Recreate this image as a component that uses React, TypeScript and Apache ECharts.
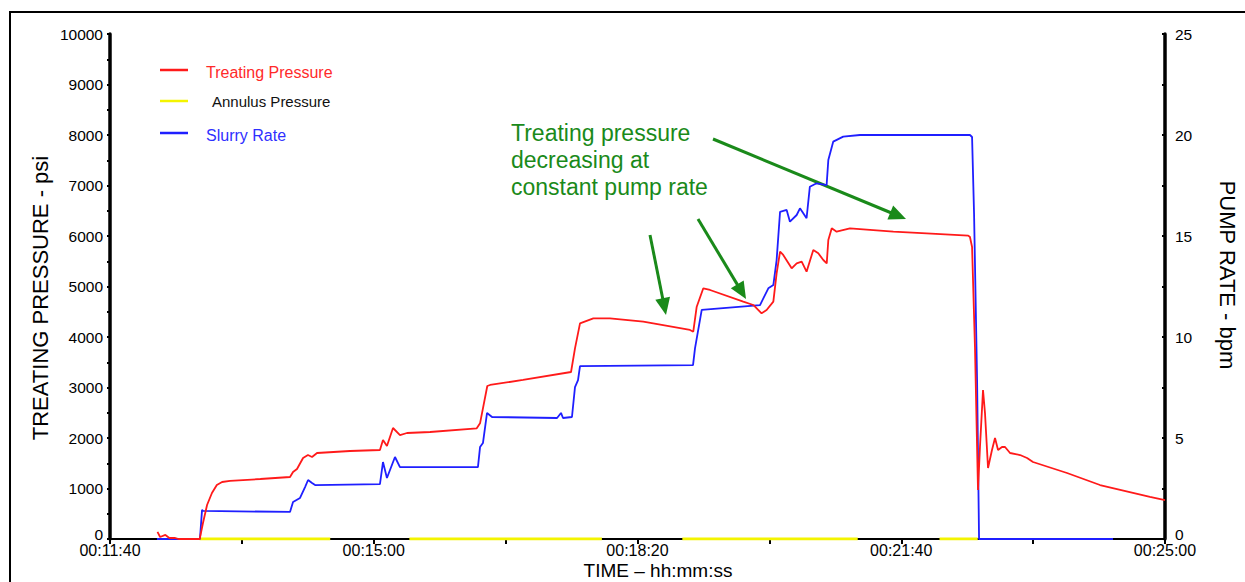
import React, { useEffect, useRef } from "react";
import * as echarts from "echarts";

// Time axis in seconds since 00:00:00
const timeMin = 700; // 00:11:40
const timeMax = 1500; // 00:25:00
const timeLabelStep = 200;

// Treating pressure, [seconds, psi]
const treatingPressure: [number, number][] = [
  [736, 140], [738, 40], [742, 80], [745, 20], [749, 20], [752, 0], [768, 0],
  [770.5, 317], [773.6, 673], [777.3, 911], [781, 1069], [785, 1129], [791, 1149],
  [814, 1188], [836.5, 1228], [838.8, 1327], [841.8, 1386], [846.4, 1604],
  [850.1, 1663], [853.2, 1624], [857, 1703], [882, 1743], [904.7, 1762],
  [907, 1960], [910, 1842], [914.6, 2198], [919.9, 2059], [925.2, 2099],
  [942.7, 2119], [978.1, 2192], [980.6, 2291], [986.1, 3030], [988.2, 3050],
  [1013.2, 3149], [1049.6, 3307], [1052.6, 3776], [1056.4, 4271], [1066.5, 4370],
  [1079.1, 4370], [1104.4, 4304], [1139.8, 4139], [1142.3, 4105], [1144.9, 4600],
  [1149.9, 4964], [1155, 4931], [1180.2, 4700], [1187.8, 4634], [1194.1, 4469],
  [1197.9, 4535], [1203, 4700], [1205.5, 5261], [1208.1, 5689], [1210.5, 5624],
  [1216.9, 5360], [1220.7, 5459], [1224.5, 5492], [1228.2, 5294], [1233.3, 5723],
  [1237.1, 5657], [1240.9, 5525], [1243.5, 5459], [1244.7, 5921], [1247.3, 6152],
  [1251, 6086], [1261.1, 6152], [1294, 6086], [1319.2, 6053], [1350.8, 6007],
  [1352.1, 5980], [1353.7, 5782], [1355.9, 3802], [1357.5, 1822], [1358.2, 970],
  [1359.7, 1822], [1362, 2950], [1363.5, 2495], [1365.8, 1406], [1368.8, 1762],
  [1371.1, 2000], [1373.4, 1762], [1376.4, 1822], [1378.7, 1822], [1382.5, 1703],
  [1390.1, 1663], [1395.4, 1604], [1399.9, 1525], [1425.7, 1307], [1450.7, 1069],
  [1488.6, 832], [1500, 772],
];

// Annulus pressure, [seconds, psi] (null = no reading)
const annulusPressure: [number, number | null][] = [
  [768, 0], [867, 0], [897, null], [927, 0], [1073, 0], [1100, null],
  [1134, 0], [1267, 0], [1300, null], [1329, 0], [1358, 0],
];

// Slurry rate, [seconds, bpm]
const slurryRate: [number, number][] = [
  [735.6, 0], [768.2, 0], [769.8, 1.44], [770.5, 1.39], [836.5, 1.34], [838.8, 1.83],
  [844.1, 2.03], [847.9, 2.57], [850.2, 2.92], [853.2, 2.77], [855.5, 2.67],
  [904.7, 2.72], [907, 3.81], [910, 3.02], [916.1, 4.06], [919.9, 3.56],
  [979, 3.56], [980.6, 4.55], [982.8, 4.75], [985.9, 6.24], [989.7, 6.04],
  [1039, 5.99], [1042, 6.24], [1043.5, 5.99], [1050.3, 6.04], [1052.6, 7.52],
  [1054.9, 7.87], [1056.4, 8.56], [1142.1, 8.61], [1143.6, 9.44], [1148.7, 11.34],
  [1162.6, 11.42], [1192.9, 11.58], [1199.2, 12.41], [1203, 12.57], [1205.5, 13.81],
  [1208.1, 16.2], [1213.1, 16.29], [1215.6, 15.71], [1220.7, 16.04], [1223.2, 16.37],
  [1228.2, 15.88], [1230.7, 17.44], [1235.8, 17.61], [1243.4, 17.52], [1244.7, 18.76],
  [1248.4, 19.67], [1256, 19.92], [1268.7, 20.0], [1352.1, 20.0], [1353.7, 19.9],
  [1355.2, 16.14], [1357.5, 7.87], [1359, 0], [1460.6, 0],
];

const seriesNames = ["Treating Pressure", "Annulus Pressure", "Slurry Rate"];
const seriesColors = ["#ff1a1a", "#f4f400", "#1f1fff"];
const legendTextColors = ["#ff2a2a", "#111111", "#2f2fff"];

const annotationText = "Treating pressure\ndecreasing at\nconstant pump rate";
const annotationColor = "#1a8a1a";

const FONT = "'Liberation Sans', Arial, Helvetica, sans-serif";

function pad(n: number) {
  return n < 10 ? "0" + n : String(n);
}
function hms(v: number) {
  const h = Math.floor(v / 3600);
  const m = Math.floor((v % 3600) / 60);
  const s = Math.round(v % 60);
  return `${pad(h)}:${pad(m)}:${pad(s)}`;
}

// Plain numbers; the zero label sits a little above the axis line
function yLabel(v: number) {
  return v === 0 ? "{zero|0}" : String(v);
}

// Straight arrow with a filled triangular head ending at (x2, y2)
function arrow(x1: number, y1: number, x2: number, y2: number) {
  const dx = x2 - x1;
  const dy = y2 - y1;
  const len = Math.hypot(dx, dy);
  const ux = dx / len;
  const uy = dy / len;
  const headLen = 17;
  const headHalf = 7.5;
  const bx = x2 - ux * headLen;
  const by = y2 - uy * headLen;
  return [
    {
      type: "line",
      shape: { x1, y1, x2: bx + ux * 2, y2: by + uy * 2 },
      style: { stroke: annotationColor, lineWidth: 3 },
      silent: true,
    },
    {
      type: "polygon",
      shape: {
        points: [
          [x2, y2],
          [bx - uy * headHalf, by + ux * headHalf],
          [bx + uy * headHalf, by - ux * headHalf],
        ],
      },
      style: { fill: annotationColor },
      silent: true,
    },
  ];
}

export default function App() {
  const ref = useRef<HTMLDivElement>(null);

  useEffect(() => {
    if (!ref.current) return;
    const chart = echarts.init(ref.current, undefined, { renderer: "svg" });

    const legendRows = [
      { lineY: 70, textX: 206, textY: 72 },
      { lineY: 101, textX: 212, textY: 101 },
      { lineY: 133, textX: 206, textY: 135 },
    ];

    const legendGraphics: any[] = [];
    seriesNames.forEach((name, i) => {
      const row = legendRows[i];
      legendGraphics.push({
        type: "line",
        shape: { x1: 160, y1: row.lineY, x2: 188, y2: row.lineY },
        style: { stroke: seriesColors[i], lineWidth: 2.5 },
        silent: true,
      });
      legendGraphics.push({
        type: "text",
        x: row.textX,
        y: row.textY,
        style: {
          text: name,
          fill: legendTextColors[i],
          font: `${i === 1 ? 15 : 16}px ${FONT}`,
          verticalAlign: "middle",
        },
        silent: true,
      });
    });

    const yLabelStyle = { color: "#000", fontSize: 15.5, fontFamily: FONT };
    const xLabelStyle = { color: "#000", fontSize: 16, fontFamily: FONT };
    const zeroRich = {
      zero: { color: "#000", fontSize: 15.5, fontFamily: FONT, padding: [0, 0, 10, 0] },
    };

    chart.setOption({
      animation: false,
      backgroundColor: "#fff",
      grid: { left: 110, right: 80, top: 34, bottom: 43, containLabel: false },
      xAxis: [
        {
          type: "value",
          position: "bottom",
          min: timeMin,
          max: timeMax,
          interval: 100,
          axisLine: { show: true, lineStyle: { color: "#c4bedc", width: 1.5 } },
          axisTick: { show: true, length: 3, lineStyle: { color: "#000", width: 2 } },
          splitLine: { show: false },
          axisLabel: {
            ...xLabelStyle,
            margin: 3,
            showMinLabel: true,
            showMaxLabel: true,
            formatter: (v: number) =>
              (v - timeMin) % timeLabelStep === 0 ? hms(v) : "",
          },
        },
        {
          type: "value",
          position: "top",
          min: timeMin,
          max: timeMax,
          interval: 100,
          axisLine: { show: true, lineStyle: { color: "#000", width: 2 } },
          axisTick: { show: true, inside: true, length: 5, lineStyle: { color: "#000", width: 2 } },
          axisLabel: { show: false },
          splitLine: { show: false },
        },
      ],
      yAxis: [
        {
          type: "value",
          position: "left",
          min: 0,
          max: 10000,
          interval: 1000,
          axisLine: { show: true, onZero: false, lineStyle: { color: "#000", width: 3.5 } },
          axisTick: { show: true, length: 3, lineStyle: { color: "#000", width: 2 } },
          minorTick: { show: true, splitNumber: 2, length: 3, lineStyle: { color: "#000", width: 2 } },
          splitLine: { show: false },
          axisLabel: { ...yLabelStyle, margin: 7, formatter: yLabel, rich: zeroRich },
        },
        {
          type: "value",
          position: "right",
          min: 0,
          max: 25,
          interval: 5,
          axisLine: { show: true, onZero: false, lineStyle: { color: "#000", width: 3.5 } },
          axisTick: { show: true, inside: true, length: 3, lineStyle: { color: "#000", width: 2 } },
          minorTick: { show: true, splitNumber: 2, length: 3, lineStyle: { color: "#000", width: 2 } },
          splitLine: { show: false },
          axisLabel: { ...yLabelStyle, margin: 10, formatter: yLabel, rich: zeroRich },
        },
      ],
      series: [
        {
          name: seriesNames[1],
          type: "line",
          xAxisIndex: 0,
          yAxisIndex: 0,
          data: annulusPressure,
          showSymbol: false,
          connectNulls: false,
          lineStyle: { color: seriesColors[1], width: 3 },
          z: 3,
        },
        {
          name: seriesNames[2],
          type: "line",
          xAxisIndex: 0,
          yAxisIndex: 1,
          data: slurryRate,
          showSymbol: false,
          lineStyle: { color: seriesColors[2], width: 1.8 },
          z: 4,
        },
        {
          name: seriesNames[0],
          type: "line",
          xAxisIndex: 0,
          yAxisIndex: 0,
          data: treatingPressure,
          showSymbol: false,
          lineStyle: { color: seriesColors[0], width: 1.8 },
          z: 5,
        },
      ],
      graphic: [
        // outer frame
        {
          type: "rect",
          shape: { x: 10, y: 12, width: 1250, height: 600 },
          style: { fill: "none", stroke: "#000", lineWidth: 2 },
          silent: true,
          z: 100,
        },
        ...legendGraphics,
        {
          type: "text",
          x: 40,
          y: 298,
          rotation: Math.PI / 2,
          style: {
            text: "TREATING PRESSURE - psi",
            fill: "#000",
            font: `22px ${FONT}`,
            align: "center",
            verticalAlign: "middle",
          },
          silent: true,
        },
        {
          type: "text",
          x: 1227,
          y: 275,
          rotation: -Math.PI / 2,
          style: {
            text: "PUMP RATE - bpm",
            fill: "#000",
            font: `22px ${FONT}`,
            align: "center",
            verticalAlign: "middle",
          },
          silent: true,
        },
        {
          type: "text",
          x: 658,
          y: 570,
          style: {
            text: "TIME – hh:mm:ss",
            fill: "#000",
            font: `19px ${FONT}`,
            align: "center",
            verticalAlign: "middle",
          },
          silent: true,
        },
        {
          type: "text",
          x: 511,
          y: 119,
          style: {
            text: annotationText,
            fill: annotationColor,
            font: `23px ${FONT}`,
            lineHeight: 27,
            verticalAlign: "top",
          },
          silent: true,
        },
        ...arrow(650, 235, 666, 315),
        ...arrow(698, 219, 746, 299),
        ...arrow(713, 139, 906, 219),
      ],
    });

    return () => chart.dispose();
  }, []);

  return (
    <div
      ref={ref}
      style={{ position: "absolute", left: 0, top: 0, width: 1245, height: 582, background: "#fff" }}
    />
  );
}
